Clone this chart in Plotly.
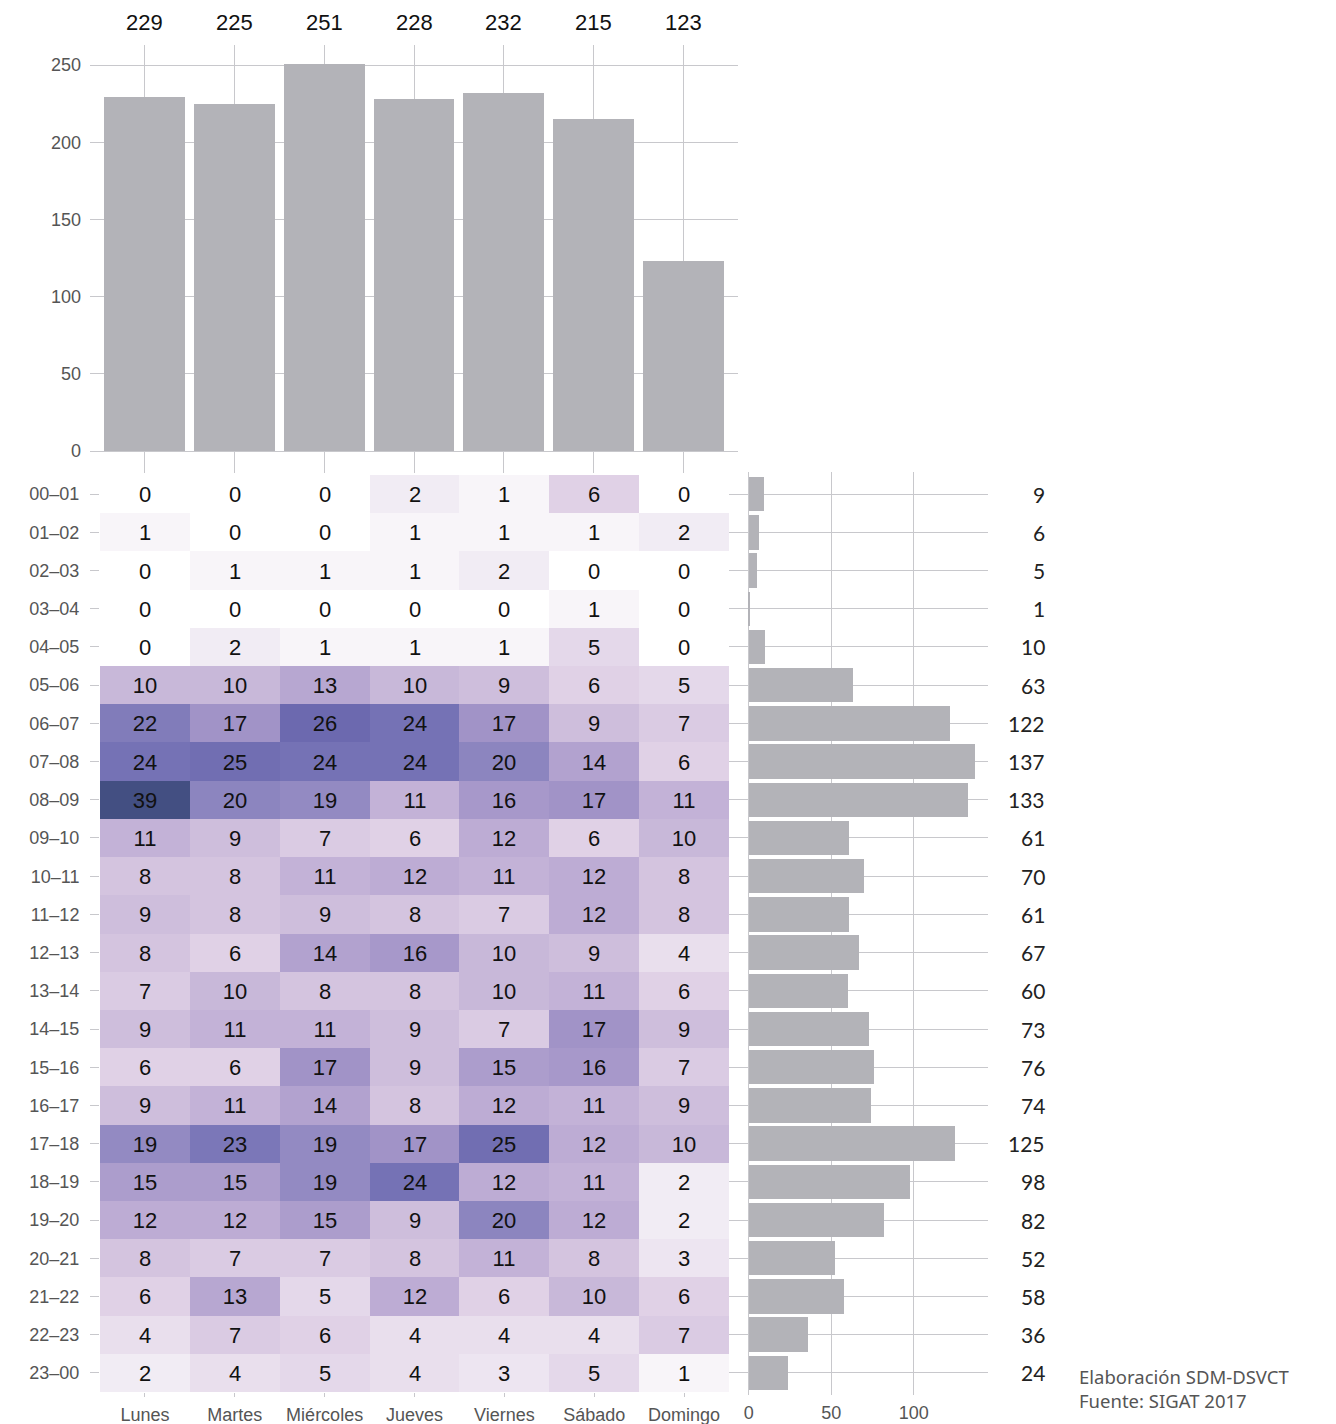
import plotly.graph_objects as go

# Days and hour bands
DAYS = ["Lunes", "Martes", "Miércoles", "Jueves", "Viernes", "Sábado", "Domingo"]
HOURS = ["00–01", "01–02", "02–03", "03–04", "04–05", "05–06", "06–07", "07–08",
         "08–09", "09–10", "10–11", "11–12", "12–13", "13–14", "14–15", "15–16",
         "16–17", "17–18", "18–19", "19–20", "20–21", "21–22", "22–23", "23–00"]

# Counts per hour (rows) and day (columns)
COUNTS = [
    [0, 0, 0, 2, 1, 6, 0],
    [1, 0, 0, 1, 1, 1, 2],
    [0, 1, 1, 1, 2, 0, 0],
    [0, 0, 0, 0, 0, 1, 0],
    [0, 2, 1, 1, 1, 5, 0],
    [10, 10, 13, 10, 9, 6, 5],
    [22, 17, 26, 24, 17, 9, 7],
    [24, 25, 24, 24, 20, 14, 6],
    [39, 20, 19, 11, 16, 17, 11],
    [11, 9, 7, 6, 12, 6, 10],
    [8, 8, 11, 12, 11, 12, 8],
    [9, 8, 9, 8, 7, 12, 8],
    [8, 6, 14, 16, 10, 9, 4],
    [7, 10, 8, 8, 10, 11, 6],
    [9, 11, 11, 9, 7, 17, 9],
    [6, 6, 17, 9, 15, 16, 7],
    [9, 11, 14, 8, 12, 11, 9],
    [19, 23, 19, 17, 25, 12, 10],
    [15, 15, 19, 24, 12, 11, 2],
    [12, 12, 15, 9, 20, 12, 2],
    [8, 7, 7, 8, 11, 8, 3],
    [6, 13, 5, 12, 6, 10, 6],
    [4, 7, 6, 4, 4, 4, 7],
    [2, 4, 5, 4, 3, 5, 1],
]

FOOTER = ["Elaboración SDM-DSVCT", "Fuente: SIGAT 2017"]

DAY_TOTALS = [sum(row[j] for row in COUNTS) for j in range(len(DAYS))]
HOUR_TOTALS = [sum(row) for row in COUNTS]

# page body has an 8px margin, so the figure is drawn 8px in from the corner
OFF = 8
W, H = 1336 - 2 * OFF, 1424 - OFF
BAR_GRAY = "#B3B3B8"
GRID = "#C8C8CC"
LABEL = "#555555"
AXIS_FONT = "Arial, Liberation Sans, sans-serif"
SOFT_FONT = "Lato"

# screen pixel -> paper fraction
def px(x):
    return (x - OFF) / W

def py(y):
    return 1 - (y - OFF) / H

ZMAX = 39
COLORSCALE = [
    [0.0, "#FFFFFF"],
    [1 / ZMAX, "#F8F5F9"],
    [2 / ZMAX, "#F1ECF4"],
    [6 / ZMAX, "#E0D1E6"],
    [9 / ZMAX, "#CEBEDC"],
    [12 / ZMAX, "#BDACD4"],
    [17 / ZMAX, "#A193C7"],
    [20 / ZMAX, "#8C85BF"],
    [24 / ZMAX, "#7572B5"],
    [26 / ZMAX, "#6C69AF"],
    [1.0, "#434F82"],
]

fig = go.Figure()

# Top: totals per day
fig.add_trace(go.Bar(
    x=list(range(len(DAYS))), y=DAY_TOTALS, width=0.9,
    marker=dict(color=BAR_GRAY, line=dict(width=0)),
    xaxis="x", yaxis="y", hoverinfo="x+y",
))

# Heatmap
fig.add_trace(go.Heatmap(
    z=COUNTS, x=list(range(len(DAYS))), y=list(range(len(HOURS))),
    colorscale=COLORSCALE, zmin=0, zmax=ZMAX, showscale=False,
    texttemplate="%{z}", textfont=dict(size=22, color="#111111", family=AXIS_FONT),
    xaxis="x2", yaxis="y2",
))

# Right: totals per hour
fig.add_trace(go.Bar(
    x=HOUR_TOTALS, y=list(range(len(HOURS))), orientation="h", width=0.9,
    marker=dict(color=BAR_GRAY, line=dict(width=0)),
    xaxis="x3", yaxis="y3",
))

annotations = []
for i, v in enumerate(DAY_TOTALS):
    annotations.append(dict(
        x=i, xref="x", y=py(23), yref="paper", text=str(v), showarrow=False,
        font=dict(size=22, color="#111111", family=AXIS_FONT), yanchor="middle",
    ))
for i, v in enumerate(HOUR_TOTALS):
    annotations.append(dict(
        x=px(1047), xref="paper", y=i, yref="y3", text=str(v), showarrow=False,
        xanchor="right", font=dict(size=21, color="#222222", family=SOFT_FONT),
    ))
annotations.append(dict(
    x=px(1077), xref="paper", y=py(1388), yref="paper", showarrow=False,
    xanchor="left", yanchor="middle", align="left", text="<br>".join(FOOTER),
    font=dict(size=18.5, color="#555555", family="Noto Sans"),
))

fig.update_layout(
    width=W, height=H,
    margin=dict(l=0, r=0, t=0, b=0, autoexpand=False),
    paper_bgcolor="white", plot_bgcolor="rgba(0,0,0,0)",
    showlegend=False, bargap=0,
    annotations=annotations,
    xaxis=dict(
        domain=[px(90), px(738)], range=[-0.607, 6.607], automargin=False,
        tickvals=list(range(len(DAYS))), showticklabels=False,
        showgrid=True, gridcolor=GRID, gridwidth=1, zeroline=False, showline=False,
    ),
    yaxis=dict(
        domain=[py(473), py(45)], range=[-14.25, 263], automargin=False,
        tickvals=[0, 50, 100, 150, 200, 250], showgrid=True, gridcolor=GRID,
        zeroline=False, showline=False, ticks="", ticklabelstandoff=8,
        tickfont=dict(size=18, color=LABEL, family=AXIS_FONT),
    ),
    xaxis2=dict(
        domain=[px(100), px(729)], range=[-0.5, 6.5], anchor="y2", automargin=False,
        tickvals=list(range(len(DAYS))), ticktext=DAYS,
        ticks="outside", ticklen=4, tickcolor=GRID, showgrid=False, zeroline=False,
        ticklabelstandoff=2,
        tickfont=dict(size=18, color=LABEL, family=AXIS_FONT),
    ),
    yaxis2=dict(
        domain=[py(1392), py(475)], range=[23.5, -0.5], anchor="x2", automargin=False,
        tickvals=list(range(len(HOURS))), ticktext=HOURS,
        ticks="outside", ticklen=9, tickcolor=GRID, showgrid=False, zeroline=False,
        ticklabelstandoff=7,
        tickfont=dict(size=18, color=LABEL, family=AXIS_FONT),
    ),
    xaxis3=dict(
        domain=[px(729), px(988)], range=[-12, 145], anchor="y3", automargin=False,
        tickvals=[0, 50, 100], showgrid=True, gridcolor=GRID, zeroline=False,
        ticks="", ticklabelstandoff=5,
        tickfont=dict(size=18, color=LABEL, family=AXIS_FONT),
    ),
    yaxis3=dict(
        domain=[py(1395), py(472)], range=[23.58, -0.58], anchor="x3", automargin=False,
        tickvals=list(range(len(HOURS))), showticklabels=False,
        showgrid=True, gridcolor=GRID, zeroline=False, ticks="",
    ),
)

fig.write_html("out.html")
